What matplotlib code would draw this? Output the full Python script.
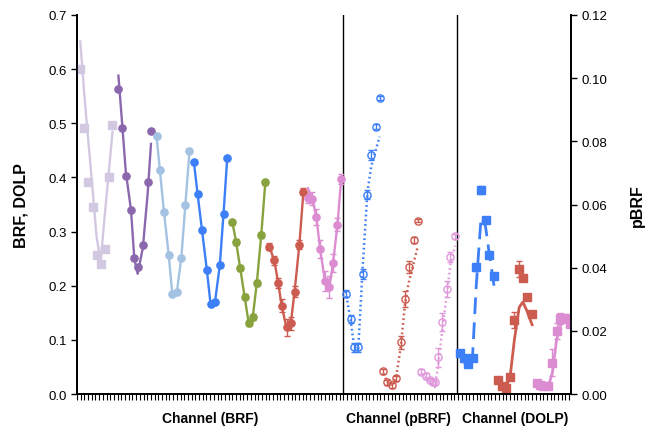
import matplotlib.pyplot as plt
import numpy as np

plt.rcParams['font.family'] = ['Liberation Sans', 'DejaVu Sans']

# BRF groups (left axis): channel positions, observed values, model line
brf_names = ["lavender", "purple", "lightblue", "blue", "green", "red", "pink"]
brf_colors = ["#d3c8e1", "#8b68ad", "#a4c2e2", "#3c7ff6", "#88a33e", "#cc5b50", "#dc8dd2"]
brf_markers = ["s", "o", "o", "o", "o", "o", "o"]

brf_x = [
    [0.9, 1.9, 2.9, 4.2, 5.3, 6.4, 7.5, 8.6, 9.6],
    [11.2, 12.2, 13.2, 14.6, 15.5, 16.4, 17.8, 19.1, 20.0],
    [21.5, 22.4, 23.5, 24.8, 25.8, 27.0, 28.2, 29.3, 30.4],
    [31.6, 32.6, 33.8, 35.1, 36.1, 37.3, 38.6, 39.6, 40.6],
    [42.0, 43.0, 44.1, 45.3, 46.4, 47.5, 48.6, 49.8, 50.9],
    [52.0, 53.3, 54.4, 55.3, 56.7, 57.8, 58.8, 60.1, 61.2],
    [62.4, 63.6, 64.7, 65.7, 67.0, 68.2, 69.2, 70.4, 71.4],
]
brf_obs = [
    [0.601, 0.491, 0.392, 0.345, 0.257, 0.240, 0.267, 0.401, 0.497],
    [0.563, 0.492, 0.403, 0.340, 0.251, 0.235, 0.275, 0.392, 0.486],
    [0.476, 0.414, 0.337, 0.256, 0.185, 0.189, 0.252, 0.350, 0.448],
    [0.428, 0.369, 0.302, 0.229, 0.166, 0.170, 0.238, 0.333, 0.435],
    [0.317, 0.281, 0.233, 0.180, 0.131, 0.142, 0.205, 0.294, 0.391],
    [0.272, 0.247, 0.205, 0.163, 0.123, 0.131, 0.189, 0.276, 0.374],
    [0.362, 0.361, 0.327, 0.268, 0.209, 0.198, 0.242, 0.313, 0.397],
]
brf_err = [
    [0.003] * 9,
    [0.003] * 9,
    [0.003] * 9,
    [0.003] * 9,
    [0.005] * 9,
    [0.006, 0.008, 0.010, 0.012, 0.015, 0.012, 0.010, 0.008, 0.006],
    [0.010, 0.012, 0.014, 0.016, 0.018, 0.020, 0.016, 0.012, 0.010],
]
brf_model = [
    [0.651, 0.560, 0.480, 0.380, 0.290, 0.245, 0.330, 0.410, 0.484],
    [0.588, 0.500, 0.410, 0.340, 0.250, 0.222, 0.270, 0.370, 0.462],
    [0.476, 0.414, 0.337, 0.256, 0.182, 0.189, 0.252, 0.350, 0.448],
    [0.428, 0.369, 0.302, 0.229, 0.166, 0.170, 0.238, 0.333, 0.435],
    [0.317, 0.281, 0.233, 0.180, 0.131, 0.142, 0.205, 0.294, 0.391],
    [0.272, 0.247, 0.205, 0.163, 0.120, 0.131, 0.189, 0.276, 0.374],
    [0.380, 0.361, 0.327, 0.268, 0.209, 0.198, 0.242, 0.313, 0.397],
]

# pBRF groups (right axis)
pbrf_colors = ["#3c7ff6", "#cc5b50", "#e09adb"]
pbrf_x = [
    [72.6, 74.0, 74.9, 76.0, 77.2, 78.5, 79.5, 80.7, 81.8],
    [82.8, 83.9, 85.1, 86.2, 87.5, 88.6, 89.6, 91.1, 92.1],
    [93.0, 94.3, 95.3, 96.1, 96.7, 97.5, 98.7, 99.9, 100.9, 102.2],
]
pbrf_obs = [
    [0.0318, 0.0238, 0.0148, 0.0148, 0.0380, 0.0631, 0.0757, 0.0846, 0.0937],
    [0.0072, 0.0037, 0.0028, 0.0050, 0.0164, 0.0301, 0.0402, 0.0487, 0.0549],
    [0.0070, 0.0057, 0.0044, 0.0038, 0.0038, 0.0117, 0.0228, 0.0332, 0.0434, 0.0500],
]
pbrf_err = [
    [0.0012, 0.0012, 0.0015, 0.0015, 0.0015, 0.0015, 0.0015, 0.0008, 0.0005],
    [0.0008, 0.0008, 0.0008, 0.0008, 0.0020, 0.0025, 0.0020, 0.0010, 0.0005],
    [0.0008, 0.0008, 0.0008, 0.0008, 0.0008, 0.0030, 0.0030, 0.0025, 0.0015, 0.0008],
]
pbrf_model = [
    [0.0325, 0.0230, 0.0150, 0.0140, 0.0400, 0.0640, 0.0720, 0.0770, 0.0815],
    [0.0065, 0.0038, 0.0030, 0.0050, 0.0150, 0.0280, 0.0350, 0.0420, 0.0468],
    [0.0065, 0.0050, 0.0035, 0.0025, 0.0022, 0.0080, 0.0200, 0.0310, 0.0410, 0.0470],
]

# DOLP groups (left axis)
dolp_colors = ["#3c7ff6", "#cc5b50", "#dc8dd2"]
dolp_styles = [(0, (6, 3)), "-", "-"]
dolp_x = [
    [103.5, 104.6, 105.7, 106.9, 107.9, 109.2, 110.4, 111.4, 112.7],
    [113.7, 114.8, 115.9, 117.1, 118.2, 119.5, 120.5, 121.5, 123.0],
    [124.2, 125.1, 126.0, 127.2, 128.5, 129.6, 130.5, 131.9, 133.1],
]
dolp_obs = [
    [0.076, 0.066, 0.055, 0.066, 0.234, 0.377, 0.322, 0.257, 0.218],
    [0.026, 0.014, 0.012, 0.032, 0.137, 0.231, 0.214, 0.179, 0.148],
    [0.020, 0.017, 0.014, 0.014, 0.058, 0.117, 0.140, 0.140, 0.129],
]
dolp_err = [
    [0.003, 0.003, 0.003, 0.005, 0.006, 0.008, 0.004, 0.003, 0.003],
    [0.003, 0.003, 0.003, 0.004, 0.015, 0.015, 0.005, 0.004, 0.003],
    [0.003, 0.003, 0.003, 0.003, 0.025, 0.015, 0.010, 0.008, 0.005],
]
dolp_model = [
    [0.076, 0.060, 0.045, 0.070, 0.200, 0.326, 0.310, 0.260, 0.200],
    [0.024, 0.012, 0.010, 0.035, 0.100, 0.160, 0.170, 0.155, 0.128],
    [0.020, 0.015, 0.012, 0.010, 0.040, 0.100, 0.125, 0.136, 0.126],
]

separators = [71.9, 102.7]

fig = plt.figure(figsize=(6.49, 4.31), dpi=100)
ax = fig.add_axes([0.1186, 0.0835, 0.7612, 0.8794])
ax2 = ax.twinx()

# BRF
for x, y, e, m, c, mk in zip(brf_x, brf_obs, brf_err, brf_model, brf_colors, brf_markers):
    ax.plot(x, m, color=c, lw=1.7, zorder=3)
    ax.errorbar(x, y, yerr=e, fmt=mk, color=c, ms=5.2, capsize=2.5, elinewidth=1, zorder=4)

# DOLP
for x, y, e, m, c, ls in zip(dolp_x, dolp_obs, dolp_err, dolp_model, dolp_colors, dolp_styles):
    ax.plot(x, m, color=c, lw=2.0, linestyle=ls, zorder=3)
    ax.errorbar(x, y, yerr=e, fmt="s", color=c, ms=5.2, capsize=2.5, elinewidth=1, zorder=4)

# pBRF
for x, y, e, m, c in zip(pbrf_x, pbrf_obs, pbrf_err, pbrf_model, pbrf_colors):
    ax2.plot(x, m, color=c, lw=1.8, linestyle=(0, (0.7, 1.2)), zorder=3)
    ax2.errorbar(x, y, yerr=e, fmt="o", color=c, mfc="none", mew=1.0, ms=5.2,
                 capsize=2.5, elinewidth=1, zorder=4)

for s in separators:
    ax.axvline(s, color="black", lw=1)

ax.set_xlim(0, 133.5)
ax.set_ylim(0, 0.7)
ax2.set_ylim(0, 0.12)

ax.set_yticks(np.arange(0, 0.71, 0.1))
ax.set_yticklabels([f"{v:.1f}" for v in np.arange(0, 0.71, 0.1)])
ax2.set_yticks(np.arange(0, 0.121, 0.02))
ax2.set_yticklabels([f"{v:.2f}" for v in np.arange(0, 0.121, 0.02)])

ax.set_xticks(np.arange(0, 134, 1))
ax.set_xticklabels([])
ax.tick_params(axis="x", length=4, width=0.8, direction="out")
ax.tick_params(axis="y", length=4, width=1, labelsize=9.5)
ax2.tick_params(axis="y", length=4, width=1, labelsize=9.5)

for a in (ax, ax2):
    a.spines["top"].set_visible(False)
    for side in ("left", "right", "bottom"):
        a.spines[side].set_linewidth(1.3)

ax.set_ylabel("BRF, DOLP", fontsize=11.5, fontweight="bold", labelpad=14)
ax2.set_ylabel("pBRF", fontsize=11.5, fontweight="bold", labelpad=16)

label_y = -0.064
ax.text(36, label_y, "Channel (BRF)", transform=ax.get_xaxis_transform(),
        ha="center", va="center", fontsize=10, fontweight="bold")
ax.text(87, label_y, "Channel (pBRF)", transform=ax.get_xaxis_transform(),
        ha="center", va="center", fontsize=10, fontweight="bold")
ax.text(118.5, label_y, "Channel (DOLP)", transform=ax.get_xaxis_transform(),
        ha="center", va="center", fontsize=10, fontweight="bold")

fig.savefig("out.png", dpi=100)
